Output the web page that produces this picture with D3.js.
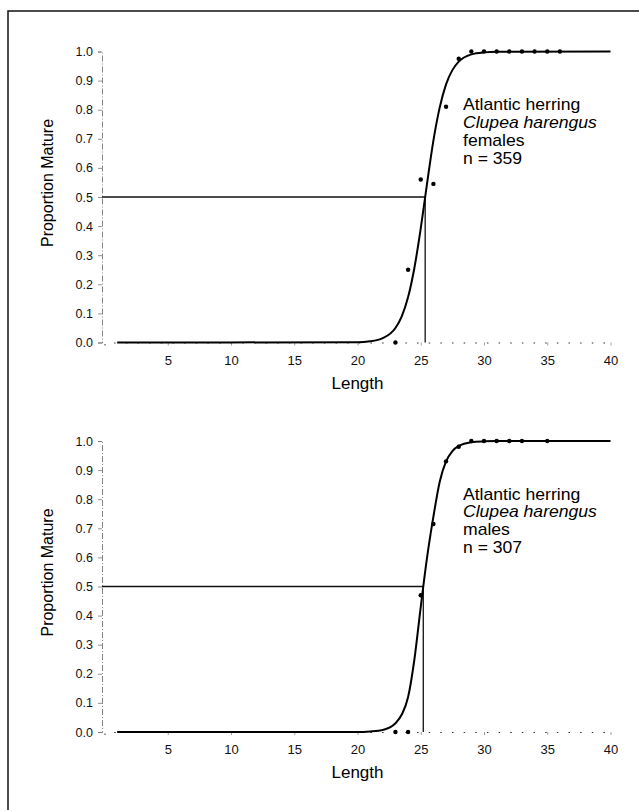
<!DOCTYPE html>
<html>
<head>
<meta charset="utf-8">
<script src="https://cdn.jsdelivr.net/npm/d3@7"></script>
<style>
  body { margin: 0; background: #fff; }
  svg { display: block; font-family: "Liberation Sans", Arial, Helvetica, sans-serif; }
</style>
</head>
<body>
<div id="chart"></div>
<script>
// tick labels
const lengthTicks = [5, 10, 15, 20, 25, 30, 35, 40];
const propTicks = [0, 0.1, 0.2, 0.3, 0.4, 0.5, 0.6, 0.7, 0.8, 0.9, 1.0];

// observed proportions mature by length
const femaleLen = [23, 24, 25, 26, 27, 28, 29, 30, 31, 32, 33, 34, 35, 36];
const femaleProp = [0, 0.25, 0.56, 0.545, 0.81, 0.975, 1, 1, 1, 1, 1, 1, 1, 1];
const maleLen = [23, 24, 25, 26, 27, 28, 29, 30, 31, 32, 33, 35];
const maleProp = [0, 0, 0.47, 0.715, 0.93, 0.98, 1, 1, 1, 1, 1, 1];

// fitted curves
const curveLen = [1, 20, 21, 22, 23, 23.5, 24, 24.5, 25, 25.5, 26, 26.5, 27, 27.5, 28, 29, 30, 31, 40];
const femaleCurve = [0, 0.001, 0.004, 0.015, 0.05, 0.09, 0.156, 0.257, 0.392, 0.547, 0.694, 0.808, 0.887, 0.936, 0.965, 0.99, 0.997, 0.999, 1];
const maleCurve = [0, 0, 0.002, 0.007, 0.03, 0.06, 0.12, 0.25, 0.43, 0.6, 0.74, 0.86, 0.93, 0.965, 0.983, 0.996, 0.999, 1, 1];

// length at 50% maturity
const femaleL50 = 25.35;
const maleL50 = 25.2;

const W = 639, H = 810;

const svg = d3.select("#chart").append("svg")
  .attr("width", W)
  .attr("height", H);

// frame (only top and left edges show on the scan)
svg.append("path")
  .attr("d", `M8,${H} L8,11 L${W},11`)
  .attr("fill", "none")
  .attr("stroke", "#111")
  .attr("stroke-width", 1.5);

const x = d3.scaleLinear().domain([0, 40]).range([104.5, 610.5]);

function drawPanel(top, lens, props, curve, l50, lines) {
  const y = d3.scaleLinear().domain([0, 1]).range([top + 291, top]);
  const g = svg.append("g");

  // Y axis
  const yAxis = g.append("g")
    .attr("transform", `translate(102,0)`)
    .call(d3.axisLeft(y).tickValues(propTicks).tickFormat(d3.format(".1f")).tickSize(4).tickPadding(5));
  yAxis.select(".domain").attr("stroke", "#666").attr("stroke-width", 0.8).attr("stroke-dasharray", "6,2,1,2");
  yAxis.selectAll(".tick line").attr("stroke", "#777").attr("stroke-width", 0.8);
  yAxis.selectAll("text").attr("font-size", 12.5).attr("fill", "#111");

  // X axis (dotted)
  const xAxis = g.append("g")
    .attr("transform", `translate(0,${y(0)})`)
    .call(d3.axisBottom(x).tickValues(lengthTicks).tickSize(3).tickPadding(10));
  xAxis.select(".domain").attr("stroke", "#333").attr("stroke-width", 1).attr("stroke-dasharray", "1.5,10.15");
  xAxis.selectAll(".tick line").attr("stroke", "#888").attr("stroke-width", 0.8);
  xAxis.selectAll("text").attr("font-size", 13).attr("fill", "#111");

  // axis titles
  g.append("text")
    .attr("x", x(20))
    .attr("y", y(0) + 46)
    .attr("text-anchor", "middle")
    .attr("font-size", 17)
    .text("Length");

  g.append("text")
    .attr("transform", `translate(53,${y(0.5) - 14}) rotate(-90)`)
    .attr("text-anchor", "middle")
    .attr("font-size", 16)
    .text("Proportion Mature");

  // 50% maturity lines
  g.append("path")
    .attr("d", `M102,${y(0.5)} L${x(l50)},${y(0.5)} L${x(l50)},${y(0)}`)
    .attr("fill", "none")
    .attr("stroke", "#111")
    .attr("stroke-width", 1.3);

  // fitted curve
  const line = d3.line()
    .x((d, i) => x(curveLen[i]))
    .y(d => y(d))
    .curve(d3.curveMonotoneX);
  g.append("path")
    .datum(curve)
    .attr("d", line)
    .attr("fill", "none")
    .attr("stroke", "#000")
    .attr("stroke-width", 2);

  // observed points
  g.selectAll("circle")
    .data(props)
    .enter()
    .append("circle")
      .attr("cx", (d, i) => x(lens[i]))
      .attr("cy", d => y(d))
      .attr("r", 2.2)
      .attr("fill", "#000");

  // annotation, slightly widened like the scan
  const note = g.append("text")
    .attr("transform", `translate(463,${top + 58.5}) scale(1.1,1)`)
    .attr("font-size", 16)
    .attr("fill", "#000");
  lines.forEach((t, i) => {
    note.append("tspan")
      .attr("x", 0)
      .attr("dy", i === 0 ? 0 : 18)
      .attr("font-style", i === 1 ? "italic" : "normal")
      .text(t);
  });
}

drawPanel(51.5, femaleLen, femaleProp, femaleCurve, femaleL50,
  ["Atlantic herring", "Clupea harengus", "females", "n = 359"]);
drawPanel(441, maleLen, maleProp, maleCurve, maleL50,
  ["Atlantic herring", "Clupea harengus", "males", "n = 307"]);
</script>
</body>
</html>
